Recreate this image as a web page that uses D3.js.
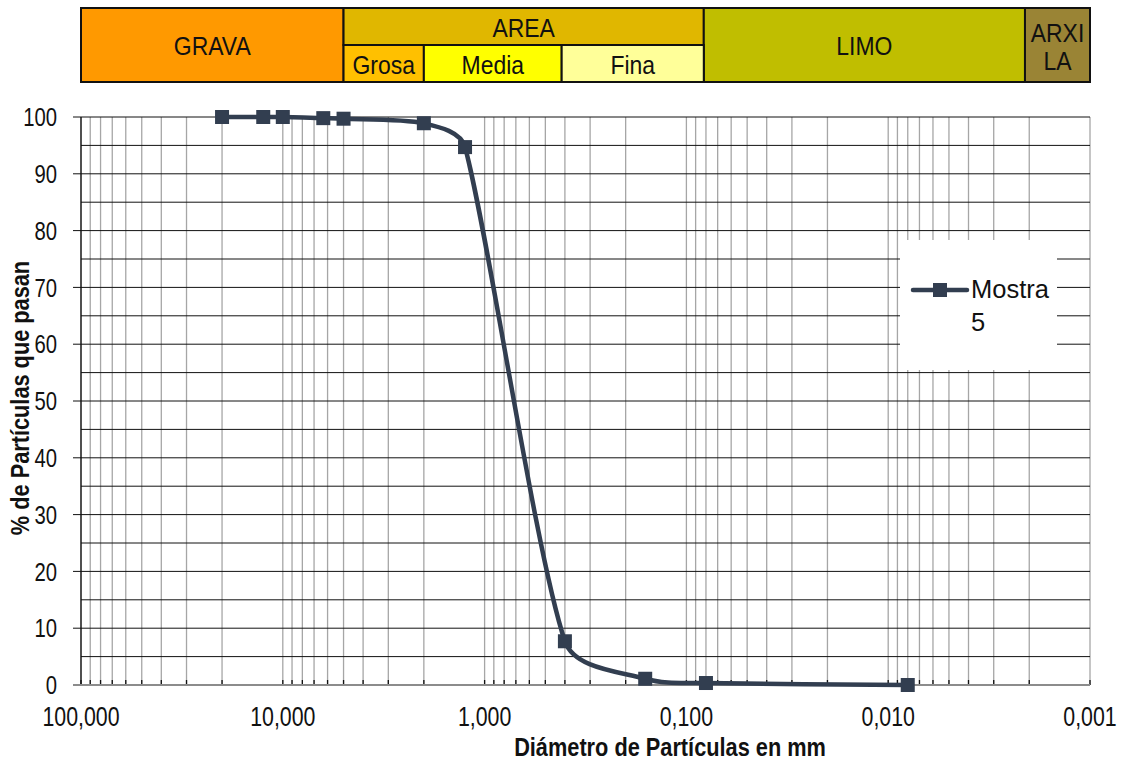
<!DOCTYPE html>
<html><head><meta charset="utf-8">
<script src="https://cdn.jsdelivr.net/npm/d3@7"></script>
<style>body{margin:0;background:#fff}svg{display:block;font-family:"Liberation Sans",Arial,sans-serif}</style>
</head><body>
<svg id="c" width="1123" height="762"></svg>
<script>
// ---- data ----
const diameters = [20, 12.5, 10, 6.3, 5, 2, 1.25, 0.4, 0.16, 0.08, 0.008];
const passing   = [100, 100, 100, 99.8, 99.7, 98.9, 94.7, 7.7, 1.1, 0.35, 0];
const seriesName = ["Mostra", "5"];
const yTicks = [0,10,20,30,40,50,60,70,80,90,100];
const xTickValues = [100, 10, 1, 0.1, 0.01, 0.001];
const xTickLabels = ["100,000","10,000","1,000","0,100","0,010","0,001"];
// header classification bands (limits in mm)
const mainBandNames = ["GRAVA", "AREA", "LIMO", "ARXILA"];
const mainBandLimits = [[100,5],[5,0.415],[0.415,0.082],[0.082,0.0021],[0.0021,0.001]];
const sandSubNames = ["Grosa", "Media", "Fina"];
const sandSubLimits = [[5,2],[2,0.415],[0.415,0.082]];
const mainColors = ["#FF9900", "#E0B700", "#C0BE00", "#9A8435"];
const subColors = ["#FFC000", "#FFFF00", "#FFFF99"];

// ---- layout ----
const svg = d3.select("#c");
const x = d3.scaleLog().domain([100, 0.001]).range([81, 1090]);
const y = d3.scaleLinear().domain([0, 100]).range([685, 117]);
const lineColor = "#323E50";

function ctext(g, tx, ty, str, size, sx, anchor, weight) {
  return g.append("text").attr("transform", `translate(${tx},${ty}) scale(${sx},1)`)
    .attr("dy", "0.35em").attr("text-anchor", anchor || "middle")
    .attr("font-size", size).attr("font-weight", weight || "normal").attr("fill", "#111").text(str);
}

// header bands
const hTop = 8, hMid = 45, hBot = 82;
const hdr = svg.append("g").attr("stroke", "#111").attr("stroke-width", 2);
const bandDefs = [
  {name: mainBandNames[0], lim: mainBandLimits[0], c: mainColors[0], y0: hTop, y1: hBot},
  {name: mainBandNames[1], lim: [mainBandLimits[1][0], mainBandLimits[2][1]], c: mainColors[1], y0: hTop, y1: hMid},
  {name: mainBandNames[2], lim: mainBandLimits[3], c: mainColors[2], y0: hTop, y1: hBot},
  {name: mainBandNames[3], lim: mainBandLimits[4], c: mainColors[3], y0: hTop, y1: hBot}
];
sandSubNames.forEach((n, i) => bandDefs.push({name: n, lim: sandSubLimits[i], c: subColors[i], y0: hMid, y1: hBot, sub: true}));
bandDefs.forEach(b => {
  const x0 = x(b.lim[0]), x1 = x(b.lim[1]);
  hdr.append("rect").attr("x", x0).attr("y", b.y0).attr("width", x1 - x0).attr("height", b.y1 - b.y0).attr("fill", b.c);
});
const hs = 25.5, hsx = 0.9;
bandDefs.forEach(b => {
  const x0 = x(b.lim[0]), x1 = x(b.lim[1]);
  const cx = (x0 + x1) / 2;
  if (b.name === "ARXILA") {
    ctext(svg, cx, 33, "ARXI", hs, hsx);
    ctext(svg, cx, 61, "LA", hs, hsx);
  } else {
    const cy = b.name === "AREA" ? 28 : (b.sub ? 65 : 46);
    ctext(svg, cx, cy, b.name, hs, hsx);
  }
});

// vertical grid (log minor ticks)
const vGrid = [];
for (let e = -3; e <= 1; e++) for (let m = 1; m <= 9; m++) vGrid.push(m * Math.pow(10, e));
vGrid.push(100);
const grid = svg.append("g");
grid.selectAll("line.v").data(vGrid).join("line")
  .attr("x1", d => x(d)).attr("x2", d => x(d)).attr("y1", y(100)).attr("y2", y(0))
  .attr("stroke", "#A6A6A6").attr("stroke-width", 1.3);
grid.selectAll("line.t").data(vGrid).join("line")
  .attr("x1", d => x(d)).attr("x2", d => x(d)).attr("y1", y(0) - 5).attr("y2", y(0))
  .attr("stroke", "#111").attr("stroke-width", 1.3);

// horizontal grid every 5
const hGrid = d3.range(5, 101, 5);
grid.selectAll("line.h").data(hGrid).join("line")
  .attr("x1", d => d % 10 === 0 ? 73 : 81).attr("x2", 1090)
  .attr("y1", d => y(d)).attr("y2", d => y(d))
  .attr("stroke", "#111").attr("stroke-width", 1);
svg.append("line").attr("x1", 81).attr("x2", 81).attr("y1", y(100)).attr("y2", y(0)).attr("stroke", "#111").attr("stroke-width", 1.3);
svg.append("line").attr("x1", 73).attr("x2", 1090).attr("y1", y(0)).attr("y2", y(0)).attr("stroke", "#8C8C8C").attr("stroke-width", 2);

// tick labels
yTicks.forEach(d => ctext(svg, 57, y(d), d, 26, 0.78, "end"));
xTickValues.forEach((d, i) => ctext(svg, x(d), 717, xTickLabels[i], 27, 0.79));

// axis titles
ctext(svg, 670, 747, "Diámetro de Partículas en mm", 25, 0.87, "middle", "bold");
svg.append("g").attr("transform", "translate(20,398) rotate(-90)")
  .call(g => ctext(g, 0, 0, "% de Partículas que pasan", 25, 0.87, "middle", "bold"));

// series: Excel-like smoothed line
const pts = diameters.map((d, i) => [x(d), y(passing[i])]);
function smoothPath(p) {
  const n = p.length, path = d3.path();
  const tan = p.map((q, i) => {
    const a = p[Math.max(0, i - 1)], b = p[Math.min(n - 1, i + 1)];
    return [(b[0] - a[0]) / 6, (b[1] - a[1]) / 6];
  });
  const lim = (t, L) => { const m = Math.hypot(t[0], t[1]); const s = m > L ? L / m : 1; return [t[0] * s, t[1] * s]; };
  path.moveTo(p[0][0], p[0][1]);
  for (let i = 0; i < n - 1; i++) {
    const P = p[i], Q = p[i + 1], L = Math.hypot(Q[0] - P[0], Q[1] - P[1]) / 3;
    const t1 = lim(tan[i], L), t2 = lim(tan[i + 1], L);
    path.bezierCurveTo(P[0] + t1[0], P[1] + t1[1], Q[0] - t2[0], Q[1] - t2[1], Q[0], Q[1]);
  }
  return path.toString();
}
svg.append("path").attr("d", smoothPath(pts))
  .attr("fill", "none").attr("stroke", lineColor).attr("stroke-width", 4.5);
svg.selectAll("rect.m").data(pts).join("rect")
  .attr("x", d => d[0] - 7).attr("y", d => d[1] - 7).attr("width", 14).attr("height", 14).attr("fill", lineColor);

// legend
svg.append("rect").attr("x", 900).attr("y", 240).attr("width", 157).attr("height", 130).attr("fill", "#fff");
svg.append("line").attr("x1", 913).attr("x2", 967).attr("y1", 290).attr("y2", 290).attr("stroke", lineColor).attr("stroke-width", 4.5).attr("stroke-linecap", "round");
svg.append("rect").attr("x", 933).attr("y", 283).attr("width", 14).attr("height", 14).attr("fill", lineColor);
const lt = svg.append("text").attr("font-size", 25.5).attr("fill", "#111");
lt.append("tspan").attr("x", 971).attr("y", 298).text(seriesName[0]);
lt.append("tspan").attr("x", 971).attr("y", 331).text(seriesName[1]);
</script>
</body></html>
